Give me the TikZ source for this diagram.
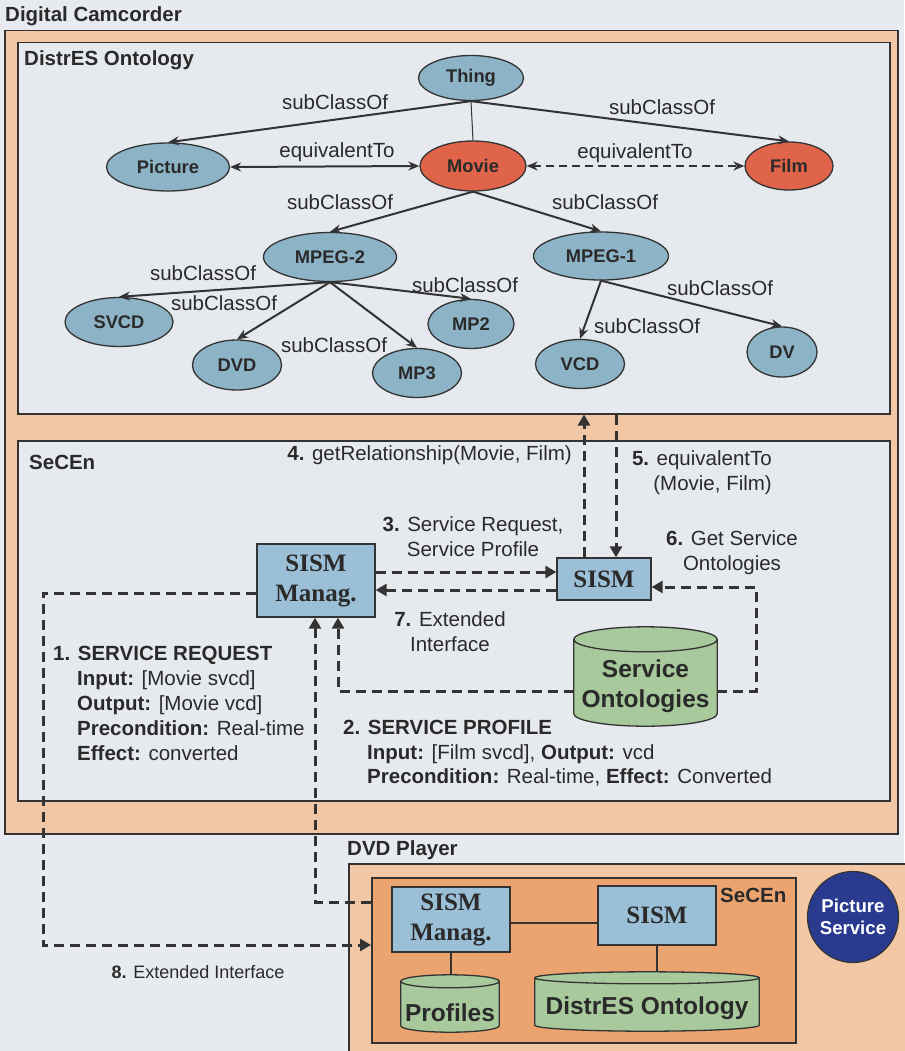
\documentclass[tikz,border=0pt]{standalone}
\usepackage{fontspec}
\setmainfont{Liberation Sans}
\newfontfamily\timesfont{Liberation Serif}
\usetikzlibrary{arrows.meta,shapes.geometric,calc}

\definecolor{pagebg}{HTML}{E7EAEF}
\definecolor{peach}{HTML}{F1C7A5}
\definecolor{panel}{HTML}{E6E9EE}
\definecolor{ink}{HTML}{2A2A2A}
\definecolor{edge}{HTML}{333333}
\definecolor{conceptblue}{HTML}{8DB3C6}
\definecolor{conceptred}{HTML}{DF6449}
\definecolor{sismblue}{HTML}{9BBFD6}
\definecolor{storegreen}{HTML}{A7C99B}
\definecolor{engine}{HTML}{EBA46F}
\definecolor{navy}{HTML}{2A3B8F}

% draws a drum (database) inside the bounding rectangle of node #1, cap radius #2
\newcommand\drumshape[2]{%
  \path[draw=edge, line width=1.3pt, fill=storegreen]
    let \p1=(#1.north west), \p2=(#1.south east), \n1={0.5*(\x2-\x1)} in
    (\x1,\y1-#2) -- (\x1,\y2+#2)
      arc[start angle=180, end angle=360, x radius={\n1*1pt}, y radius=#2]
      -- (\x2,\y1-#2)
      arc[start angle=0, end angle=180, x radius={\n1*1pt}, y radius=#2] -- cycle
    (\x1,\y1-#2)
      arc[start angle=180, end angle=360, x radius={\n1*1pt}, y radius=#2];
}

\begin{document}
\begin{tikzpicture}[x=1pt,y=-1pt,
  lbl/.style={font=\fontsize{20.5}{25}\selectfont, text=ink, inner sep=0pt},
  title/.style={font=\fontsize{20.5}{25}\selectfont\bfseries, text=ink, inner sep=0pt},
  frame/.style={rectangle, draw=edge, line width=1.5pt, inner sep=0pt, anchor=north west},
  concept/.style={ellipse, draw=edge, line width=1.3pt, fill=conceptblue, inner sep=0pt,
    font=\fontsize{18.3}{20}\selectfont\bfseries, text=ink},
  hot/.style={concept, fill=conceptred},
  rel/.style={draw=edge, line width=2pt, -{Stealth[length=11pt,width=9pt]}},
  twoway/.style={rel, {Stealth[length=11pt,width=9pt]}-{Stealth[length=11pt,width=9pt]}},
  flow/.style={draw=edge, line width=3pt, dash pattern=on 10pt off 6pt,
    -{Triangle[length=11pt,width=12pt]}},
  thin/.style={draw=edge, line width=1.3pt},
  sismbox/.style={rectangle, draw=edge, line width=1.3pt, fill=sismblue, inner sep=0pt,
    align=center, font=\fontsize{25}{30}\selectfont\timesfont\bfseries, text=ink},
  store/.style={rectangle, inner sep=0pt},
  storetext/.style={font=\fontsize{24.5}{30}\selectfont\bfseries, text=ink, inner sep=0pt, align=center},
]
% page
\fill[pagebg] (0,0) rectangle (904,1051);
\useasboundingbox (0,0) rectangle (904,1051);

% ---------------- Digital Camcorder ----------------
\node[title, anchor=west] (camlabel) at (5,16) {Digital Camcorder};
\node[frame, fill=peach, minimum width=893, minimum height=803] (cam) at (4,30) {};
\node[frame, fill=panel, minimum width=872, minimum height=371] (ont) at (17,42) {};
\node[frame, fill=panel, minimum width=872, minimum height=360] (sec) at (17,440) {};
\node[title, anchor=west] (ontlabel) at (24,60) {DistrES Ontology};
\node[title, anchor=west] (seclabel) at (29,462) {SeCEn};

% ontology concepts
\node[concept, minimum width=105, minimum height=45] (thing) at (471,78) {Thing};
\node[concept, minimum width=123, minimum height=48] (picture) at (168,167) {Picture};
\node[hot, minimum width=106, minimum height=50] (movie) at (473,166) {Movie};
\node[hot, minimum width=88, minimum height=48] (film) at (789,166) {Film};
\node[concept, minimum width=133, minimum height=49] (mpegtwo) at (330,257) {MPEG-2};
\node[concept, minimum width=135, minimum height=48] (mpegone) at (601,256) {MPEG-1};
\node[concept, minimum width=108, minimum height=49] (svcd) at (119,322) {SVCD};
\node[concept, minimum width=89, minimum height=50] (dvd) at (237,365) {DVD};
\node[concept, minimum width=89, minimum height=49] (mpthree) at (417,373) {MP3};
\node[concept, minimum width=86, minimum height=49] (mptwo) at (471,324) {MP2};
\node[concept, minimum width=89, minimum height=49] (vcd) at (580,364) {VCD};
\node[concept, minimum width=70, minimum height=50] (dv) at (782,352) {DV};

% ontology relations
\draw[rel] (thing.south) -- (picture.north);
\draw[rel] (thing.south) -- (film.north);
\draw[thin, line width=1pt] (thing.south) -- (movie.north);
\draw[twoway] (picture.east) -- (movie.west);
\draw[twoway, dash pattern=on 8pt off 5pt] (movie.east) -- (film.west);
\draw[rel] (movie.south) -- (mpegtwo.north);
\draw[rel] (movie.south) -- (mpegone.north);
\draw[rel] (mpegtwo.south) -- (svcd.north);
\draw[rel] (mpegtwo.south) -- (dvd.north);
\draw[rel] (mpegtwo.south) -- (mpthree.north);
\draw[rel] (mpegtwo.south) -- (mptwo.north);
\draw[rel] (mpegone.south) -- (vcd.north);
\draw[rel] (mpegone.south) -- (dv.north);

\node[lbl] (lpic) at (335,102) {subClassOf};
\node[lbl] (lfilm) at (662,107) {subClassOf};
\node[lbl] (leqa) at (337,152) {equivalentTo};
\node[lbl] (leqb) at (635,153) {equivalentTo};
\node[lbl] (lmtwo) at (340,202) {subClassOf};
\node[lbl] (lmone) at (605,202) {subClassOf};
\node[lbl] (lsvcd) at (203,273) {subClassOf};
\node[lbl] (ldvd) at (224,303) {subClassOf};
\node[lbl] (lmpthree) at (334,345) {subClassOf};
\node[lbl] (lmptwo) at (465,285) {subClassOf};
\node[lbl] (lvcd) at (647,326) {subClassOf};
\node[lbl] (ldv) at (720,288) {subClassOf};

% SeCEn components
\node[sismbox, minimum width=118, minimum height=73] (sm) at (316,580.5) {SISM\\Manag.};
\node[sismbox, minimum width=94, minimum height=42] (sism) at (604,579) {SISM};
\node[store, minimum width=143, minimum height=99] (so) at (645.5,676.5) {};
\drumshape{so}{12.5pt}
\node[storetext] (sotext) at (645.5,686) {Service\\Ontologies};

\node[lbl, anchor=east] (qfour) at (572,455) {\textbf{4.} getRelationship(Movie, Film)};
\node[lbl, anchor=east, align=right] (qfive) at (772,473) {\textbf{5.} equivalentTo\\(Movie, Film)};
\node[lbl, align=center] (qthree) at (473,537) {\textbf{3.} Service Request,\\Service Profile};
\node[lbl, align=center] (qsix) at (732,553) {\textbf{6.} Get Service\\Ontologies};
\node[lbl, align=center] (qseven) at (450,632) {\textbf{7.} Extended\\Interface};

\node[lbl, anchor=north west, align=left] (req) at (53,646)
  {\textbf{1. SERVICE REQUEST}\\
   \hspace*{24pt}\textbf{Input:} [Movie svcd]\\
   \hspace*{24pt}\textbf{Output:} [Movie vcd]\\
   \hspace*{24pt}\textbf{Precondition:} Real-time\\
   \hspace*{24pt}\textbf{Effect:} converted};
\node[lbl, anchor=north west, align=left, font=\fontsize{20.5}{24.5}\selectfont] (prof) at (343,720)
  {\textbf{2. SERVICE PROFILE}\\
   \hspace*{24pt}\textbf{Input:} [Film svcd], \textbf{Output:} vcd\\
   \hspace*{24pt}\textbf{Precondition:} Real-time, \textbf{Effect:} Converted};

% ---------------- DVD Player ----------------
\node[title, anchor=west] (dvdlabel) at (347,850) {DVD Player};
\node[frame, fill=peach, minimum width=600, minimum height=250] (dvdbox) at (348,863) {};
\node[frame, fill=engine, minimum width=424, minimum height=165] (dsec) at (371,877) {};
\node[title, anchor=west] (dseclabel) at (720,895) {SeCEn};
\node[sismbox, minimum width=118, minimum height=65] (dsm) at (451,919.5) {SISM\\Manag.};
\node[sismbox, minimum width=118, minimum height=59] (dsism) at (657,915.5) {SISM};
\node[store, minimum width=98, minimum height=57] (dprof) at (450,1003.5) {};
\drumshape{dprof}{6.5pt}
\node[storetext] (dproftext) at (450,1013) {Profiles};
\node[store, minimum width=224, minimum height=59] (dont) at (647,1001.5) {};
\drumshape{dont}{6pt}
\node[storetext] (donttext) at (647,1008) {DistrES Ontology};
\node[circle, fill=navy, draw=edge, line width=1.2pt, minimum size=91, inner sep=0pt,
  text=white, font=\fontsize{18.6}{22}\selectfont\bfseries, align=center] (psvc) at (853,917) {Picture\\Service};

\draw[thin] (dsm.east |- 0,923) -- (dsism.west |- 0,923);
\draw[thin] (dsm.south) -- (dsm.south |- dprof.north);
\draw[thin] (dsism.south) -- (dsism.south |- dont.north);

% ---------------- message flow ----------------
\draw[flow] (584,0 |- sism.north) -- (584,0 |- ont.south);
\draw[flow] (616,0 |- ont.south) -- (616,0 |- sism.north);
\draw[flow] (sm.east |- 0,572) -- (sism.west |- 0,572);
\draw[flow] (sism.west |- 0,590) -- (sm.east |- 0,590);
\draw[flow] (so.east |- 0,691) -- (756,691) -- (756,587) -- (sism.east |- 0,587);
\draw[flow] (so.west |- 0,691) -| (sm.south -| 338,0);
\draw[flow] (dsec.west |- 0,902) -| (sm.south -| 315,0);
\draw[flow] (sm.west |- 0,593) -- (43,593) -- (43,945) -- (dsec.west |- 0,945);
\node[lbl, font=\fontsize{18}{22}\selectfont] (qeight) at (198,972) {\textbf{8.} Extended Interface};
\end{tikzpicture}
\end{document}
